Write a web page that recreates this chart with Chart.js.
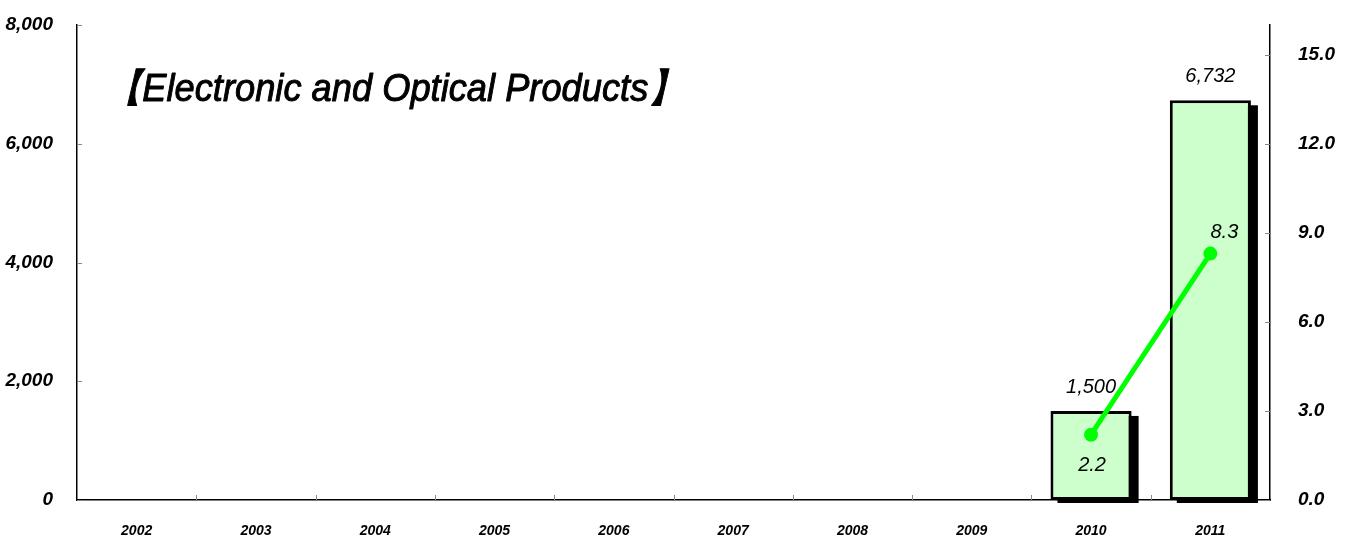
<!DOCTYPE html>
<html>
<head>
<meta charset="utf-8">
<script src="https://cdn.jsdelivr.net/npm/chart.js@4"></script>
<style>
  html, body { margin: 0; padding: 0; background: #fff; }
  #wrap { width: 1347px; height: 542px; }
</style>
</head>
<body>
<div id="wrap"><canvas id="c" width="1347" height="542"></canvas></div>
<script>
// Electronic and optical products: amount (left axis) and share in % (right axis)
const years = ['2002', '2003', '2004', '2005', '2006', '2007', '2008', '2009', '2010', '2011'];
const amounts = [null, null, null, null, null, null, null, null, 1500, 6732];
const shares = [null, null, null, null, null, null, null, null, 2.2, 8.3];
const titleText = '【Electronic and Optical Products】';

const tickFont = { family: '"Liberation Sans", Arial, sans-serif', size: 19, weight: 'bold', style: 'italic' };
const xFont = { family: '"Liberation Sans", Arial, sans-serif', size: 14, weight: 'bold', style: 'italic' };
const labelFont = 'italic 20px "Liberation Sans", Arial, sans-serif';

// drop-shadow blocks behind the bars, inward tick marks, value labels and the heading
const decorations = {
  id: 'decorations',
  beforeDatasetsDraw(chart) {
    const ctx = chart.ctx;
    const meta = chart.getDatasetMeta(0);
    ctx.save();
    ctx.fillStyle = '#000';
    meta.data.forEach((bar, i) => {
      if (amounts[i] == null) return;
      const w = bar.width;
      ctx.fillRect(bar.x - w / 2 + 7, bar.y + 5, w, bar.base - bar.y - 2);
    });
    ctx.restore();
  },
  afterDatasetsDraw(chart) {
    const ctx = chart.ctx;
    const { x, y, y1 } = chart.scales;
    const area = chart.chartArea;
    ctx.save();
    ctx.strokeStyle = '#888';
    ctx.lineWidth = 1;
    // left axis ticks
    y.ticks.forEach(t => {
      const py = Math.round(y.getPixelForValue(t.value)) + 0.5;
      ctx.beginPath(); ctx.moveTo(area.left, py); ctx.lineTo(area.left + 5, py); ctx.stroke();
    });
    // right axis ticks
    y1.ticks.forEach(t => {
      const py = Math.round(y1.getPixelForValue(t.value)) + 0.5;
      ctx.beginPath(); ctx.moveTo(area.right - 5, py); ctx.lineTo(area.right, py); ctx.stroke();
    });
    // category boundary marks
    const step = (x.getPixelForValue(1) - x.getPixelForValue(0));
    for (let i = 1; i < years.length; i++) {
      const px = Math.round(x.getPixelForValue(i) - step / 2) + 0.5;
      ctx.beginPath(); ctx.moveTo(px, area.bottom); ctx.lineTo(px, area.bottom - 5); ctx.stroke();
    }

    // value labels
    ctx.fillStyle = '#000';
    ctx.font = labelFont;
    ctx.textAlign = 'center';
    ctx.textBaseline = 'alphabetic';
    const barMeta = chart.getDatasetMeta(0);
    barMeta.data.forEach((bar, i) => {
      if (amounts[i] == null) return;
      ctx.fillText(amounts[i].toLocaleString('en-US'), bar.x, bar.y - 18);
    });
    const lineMeta = chart.getDatasetMeta(1);
    lineMeta.data.forEach((pt, i) => {
      if (shares[i] == null) return;
      const txt = shares[i].toFixed(1);
      if (i === years.length - 1) {
        ctx.fillText(txt, pt.x + 14, pt.y - 16);
      } else {
        ctx.fillText(txt, pt.x + 1, pt.y + 36);
      }
    });

    // heading, slightly condensed and heavy
    ctx.font = 'italic 39px "Liberation Sans", Arial, sans-serif';
    ctx.textAlign = 'left';
    ctx.textBaseline = 'middle';
    ctx.translate(106, 90);
    ctx.scale(0.93, 1);
    ctx.strokeStyle = '#000';
    ctx.lineWidth = 1;
    ctx.lineJoin = 'round';
    ctx.fillText(titleText, 0, 0);
    ctx.strokeText(titleText, 0, 0);
    ctx.restore();
  }
};

new Chart(document.getElementById('c'), {
  data: {
    labels: years,
    datasets: [
      {
        type: 'bar',
        data: amounts,
        yAxisID: 'y',
        backgroundColor: '#CCFFCC',
        borderColor: '#000',
        borderWidth: 3,
        borderSkipped: false,
        categoryPercentage: 1,
        barPercentage: 0.68,
        order: 2
      },
      {
        type: 'line',
        data: shares,
        yAxisID: 'y1',
        borderColor: '#00FF00',
        backgroundColor: '#00FF00',
        borderWidth: 5,
        pointRadius: 7,
        pointHoverRadius: 7,
        pointBorderWidth: 0,
        spanGaps: false,
        order: 1
      }
    ]
  },
  options: {
    responsive: false,
    animation: false,
    events: [],
    layout: { padding: { top: 25, left: 0, right: 0, bottom: 0 } },
    plugins: {
      legend: { display: false },
      title: { display: false },
      tooltip: { enabled: false }
    },
    scales: {
      x: {
        offset: true,
        grid: { display: false },
        border: { display: true, color: '#000', width: 1.5 },
        ticks: { color: '#000', font: xFont, padding: 15, maxRotation: 0, autoSkip: false },
        afterFit(s) { s.height = 42; }
      },
      y: {
        position: 'left',
        min: 0,
        max: 8000,
        grid: { display: false },
        border: { display: true, color: '#000', width: 1.5 },
        ticks: {
          stepSize: 2000,
          color: '#000',
          font: tickFont,
          padding: 16,
          callback: v => v.toLocaleString('en-US')
        },
        afterFit(s) { s.width = 77; s.paddingTop = 0; }
      },
      y1: {
        position: 'right',
        min: 0,
        max: 16,
        grid: { display: false },
        border: { display: true, color: '#000', width: 1.5 },
        ticks: {
          stepSize: 3,
          color: '#000',
          font: tickFont,
          padding: 20,
          callback: v => v.toFixed(1)
        },
        afterBuildTicks(s) { s.ticks = s.ticks.filter(t => t.value <= 15); },
        afterFit(s) { s.width = 77; s.paddingTop = 0; }
      }
    }
  },
  plugins: [decorations]
});
</script>
</body>
</html>
